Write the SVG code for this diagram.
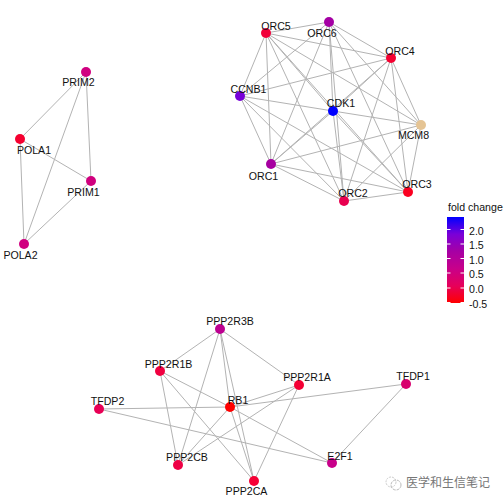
<svg xmlns="http://www.w3.org/2000/svg" width="504" height="504" viewBox="0 0 504 504">
<style>
text{font-family:"Liberation Sans",Arial,sans-serif;font-size:10.6px;fill:#111}
.n text{text-anchor:middle}
#edges line{stroke:#b3b3b3;stroke-width:1;fill:none}
.t{stroke:#fff;stroke-width:1}
</style>
<defs><linearGradient id="g" x1="0" y1="0" x2="0" y2="1"><stop offset="0" stop-color="#0000ff"/><stop offset=".2" stop-color="#7a00d8"/><stop offset=".4" stop-color="#a600a4"/><stop offset=".6" stop-color="#c8008a"/><stop offset=".8" stop-color="#e6005a"/><stop offset="1" stop-color="#ff0000"/></linearGradient></defs>
<rect width="504" height="504" fill="#fff"/>
<g id="edges">
<line x1="266" y1="33" x2="329" y2="22"/><line x1="266" y1="33" x2="391" y2="58"/><line x1="266" y1="33" x2="240" y2="96"/><line x1="266" y1="33" x2="333" y2="111"/><line x1="266" y1="33" x2="421" y2="125"/><line x1="266" y1="33" x2="271" y2="164"/><line x1="266" y1="33" x2="344" y2="201"/><line x1="266" y1="33" x2="408" y2="192"/>
<line x1="329" y1="22" x2="391" y2="58"/><line x1="329" y1="22" x2="240" y2="96"/><line x1="329" y1="22" x2="333" y2="111"/><line x1="329" y1="22" x2="421" y2="125"/><line x1="329" y1="22" x2="271" y2="164"/><line x1="329" y1="22" x2="344" y2="201"/><line x1="329" y1="22" x2="408" y2="192"/>
<line x1="391" y1="58" x2="240" y2="96"/><line x1="391" y1="58" x2="333" y2="111"/><line x1="391" y1="58" x2="421" y2="125"/><line x1="391" y1="58" x2="271" y2="164"/><line x1="391" y1="58" x2="344" y2="201"/><line x1="391" y1="58" x2="408" y2="192"/>
<line x1="240" y1="96" x2="333" y2="111"/><line x1="240" y1="96" x2="271" y2="164"/><line x1="240" y1="96" x2="344" y2="201"/><line x1="240" y1="96" x2="408" y2="192"/>
<line x1="333" y1="111" x2="421" y2="125"/><line x1="333" y1="111" x2="271" y2="164"/><line x1="333" y1="111" x2="344" y2="201"/><line x1="333" y1="111" x2="408" y2="192"/>
<line x1="421" y1="125" x2="271" y2="164"/><line x1="421" y1="125" x2="344" y2="201"/><line x1="421" y1="125" x2="408" y2="192"/>
<line x1="271" y1="164" x2="344" y2="201"/><line x1="271" y1="164" x2="408" y2="192"/><line x1="344" y1="201" x2="408" y2="192"/>
<line x1="86" y1="72" x2="20" y2="139"/><line x1="86" y1="72" x2="91" y2="181"/><line x1="86" y1="72" x2="24" y2="244"/><line x1="20" y1="139" x2="91" y2="181"/><line x1="20" y1="139" x2="24" y2="244"/><line x1="91" y1="181" x2="24" y2="244"/>
<line x1="220" y1="329" x2="160" y2="371"/><line x1="220" y1="329" x2="299" y2="385"/><line x1="220" y1="329" x2="230" y2="407"/><line x1="220" y1="329" x2="178" y2="465"/><line x1="220" y1="329" x2="254" y2="481"/>
<line x1="160" y1="371" x2="230" y2="407"/><line x1="160" y1="371" x2="178" y2="465"/><line x1="160" y1="371" x2="254" y2="481"/>
<line x1="99" y1="409" x2="230" y2="407"/><line x1="99" y1="409" x2="332" y2="463"/>
<line x1="230" y1="407" x2="299" y2="385"/><line x1="230" y1="407" x2="178" y2="465"/><line x1="230" y1="407" x2="254" y2="481"/><line x1="230" y1="407" x2="332" y2="463"/><line x1="230" y1="407" x2="406" y2="384"/>
<line x1="299" y1="385" x2="178" y2="465"/><line x1="299" y1="385" x2="254" y2="481"/><line x1="406" y1="384" x2="332" y2="463"/>
</g>
<g class="n" id="ORC5"><circle cx="266" cy="33" r="5" fill="#f2003a"/><text x="276" y="30">ORC5</text></g>
<g class="n" id="ORC6"><circle cx="329" cy="22" r="5" fill="#a400a4"/><text x="322" y="36.5">ORC6</text></g>
<g class="n" id="ORC4"><circle cx="391" cy="58" r="5" fill="#f50030"/><text x="400" y="55">ORC4</text></g>
<g class="n" id="CCNB1"><circle cx="240" cy="96" r="5" fill="#7700d8"/><text x="248.500" y="92.500">CCNB1</text></g>
<g class="n" id="CDK1"><circle cx="333" cy="111" r="5" fill="#0000ff"/><text x="341" y="106.500">CDK1</text></g>
<g class="n" id="MCM8"><circle cx="421" cy="125" r="5" fill="#e5c494"/><text x="413.500" y="139">MCM8</text></g>
<g class="n" id="ORC1"><circle cx="271" cy="164" r="5" fill="#a600a0"/><text x="263.500" y="180">ORC1</text></g>
<g class="n" id="ORC2"><circle cx="344" cy="201" r="5" fill="#e80050"/><text x="353" y="196.500">ORC2</text></g>
<g class="n" id="ORC3"><circle cx="408" cy="192" r="5" fill="#fa0020"/><text x="417" y="188">ORC3</text></g>
<g class="n" id="PRIM2"><circle cx="86" cy="72" r="5" fill="#d00080"/><text x="78.500" y="85.500">PRIM2</text></g>
<g class="n" id="POLA1"><circle cx="20" cy="139" r="5" fill="#f50030"/><text x="34" y="154">POLA1</text></g>
<g class="n" id="PRIM1"><circle cx="91" cy="181" r="5" fill="#d0007e"/><text x="83.500" y="195.500">PRIM1</text></g>
<g class="n" id="POLA2"><circle cx="24" cy="244" r="5" fill="#d00080"/><text x="20.500" y="259">POLA2</text></g>
<g class="n" id="PPP2R3B"><circle cx="220" cy="329" r="5" fill="#bc0090"/><text x="230" y="324.500">PPP2R3B</text></g>
<g class="n" id="PPP2R1B"><circle cx="160" cy="371" r="5" fill="#f00040"/><text x="168.500" y="368">PPP2R1B</text></g>
<g class="n" id="TFDP2"><circle cx="99" cy="409" r="5" fill="#e80055"/><text x="107.500" y="405">TFDP2</text></g>
<g class="n" id="RB1"><circle cx="230" cy="407" r="5" fill="#ff0000"/><text x="238" y="404">RB1</text></g>
<g class="n" id="PPP2CB"><circle cx="178" cy="465" r="5" fill="#ee0045"/><text x="187" y="460.500">PPP2CB</text></g>
<g class="n" id="PPP2CA"><circle cx="254" cy="481" r="5" fill="#f50035"/><text x="246.500" y="494.500">PPP2CA</text></g>
<g class="n" id="PPP2R1A"><circle cx="299" cy="385" r="5" fill="#f50035"/><text x="307" y="380.500">PPP2R1A</text></g>
<g class="n" id="TFDP1"><circle cx="406" cy="384" r="5" fill="#d8006e"/><text x="413" y="380">TFDP1</text></g>
<g class="n" id="E2F1"><circle cx="332" cy="463" r="5" fill="#c8008a"/><text x="340" y="459.500">E2F1</text></g>
<g id="legend">
<text x="448" y="211">fold change</text>
<rect x="447" y="217" width="17" height="86" fill="url(#g)"/>
<path class="t" d="M447 229.500h3.500M460.500 229.500h3.500M447 244h3.500M460.500 244h3.500M447 258.500h3.500M460.500 258.500h3.500M447 273h3.500M460.500 273h3.500M447 288h3.500M460.500 288h3.500M447 302.500h3.500M460.500 302.500h3.500"/>
<text x="469" y="234.500">2.0</text><text x="469" y="249">1.5</text><text x="469" y="263.500">1.0</text><text x="469" y="278">0.5</text><text x="469" y="293">0.0</text><text x="469" y="307.500">-0.5</text>
</g>
<g id="watermark">
<circle cx="391" cy="482" r="5" fill="none" stroke="#ccc" stroke-width="1" stroke-dasharray="2 1"/>
<circle cx="396" cy="485" r="5" fill="none" stroke="#bbb" stroke-width="1" stroke-dasharray="3 1"/>
<text x="406" y="487" style="font-family:'Noto Sans CJK SC',sans-serif;font-size:12px;fill:#777">医学和生信笔记</text>
</g>
</svg>
